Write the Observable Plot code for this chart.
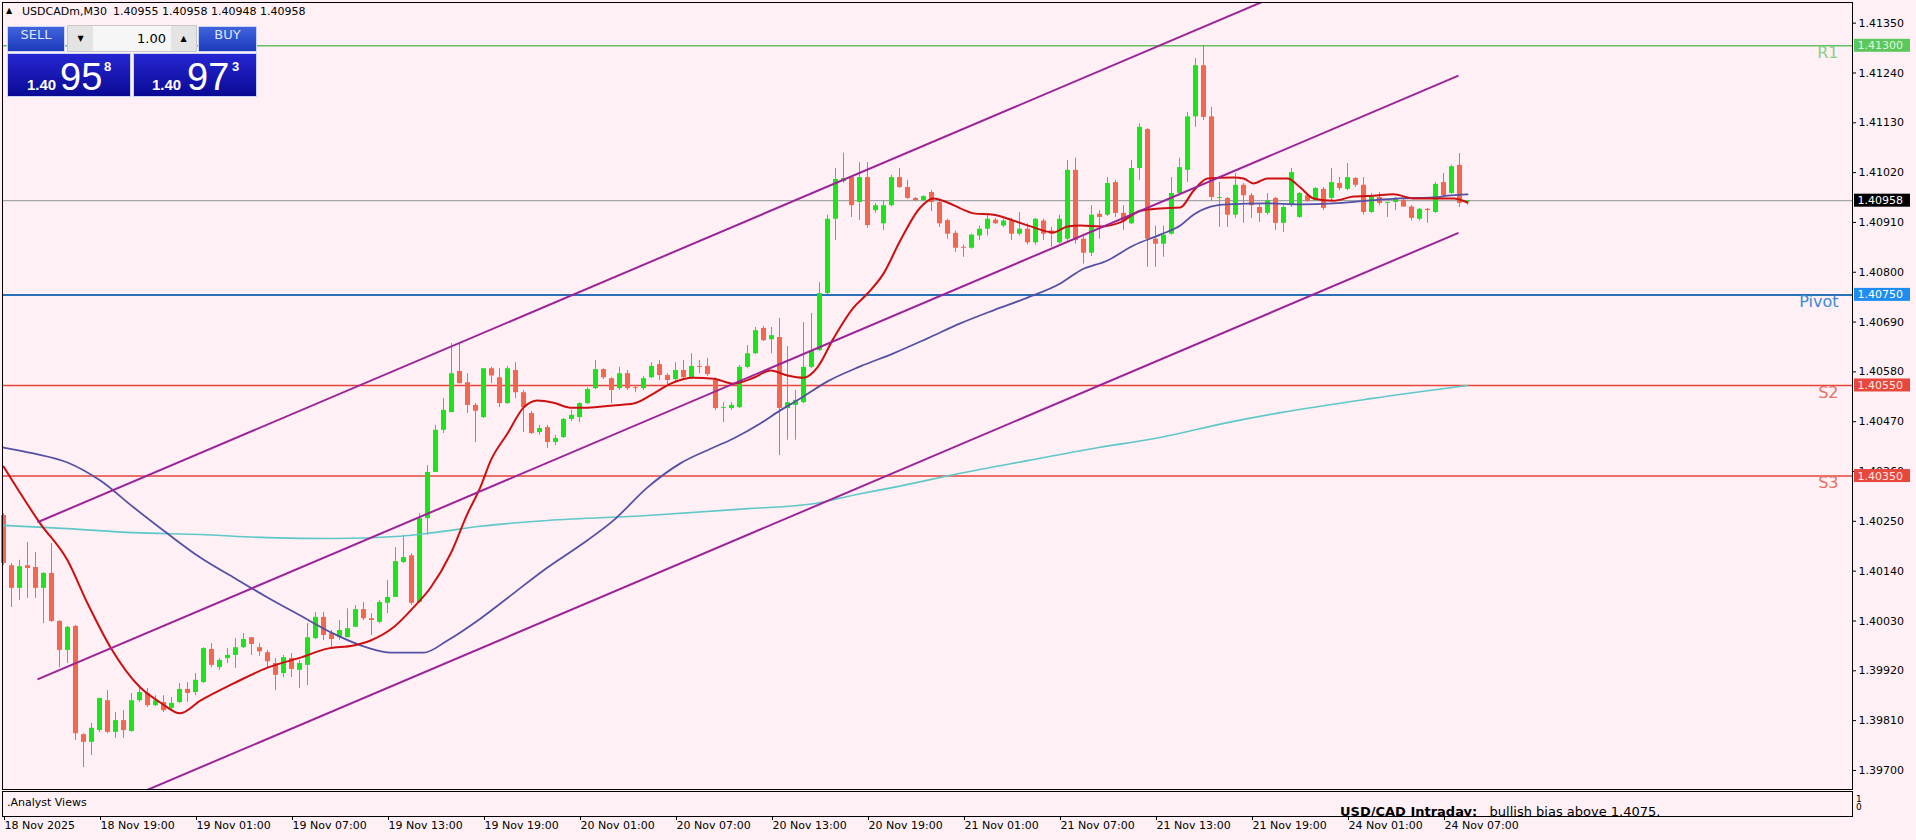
<!DOCTYPE html>
<html><head><meta charset="utf-8">
<script src="https://cdn.jsdelivr.net/npm/d3@7"></script>
<script src="https://cdn.jsdelivr.net/npm/@observablehq/plot@0.6"></script>
<style>
html,body{margin:0;padding:0;background:#fff0f5;}
body{width:1916px;height:840px;overflow:hidden;position:relative;font-family:"DejaVu Sans",sans-serif;}
#chart{position:absolute;left:0;top:0;}
.abs{position:absolute;white-space:pre;}
.lbl{position:absolute;top:26px;height:26px;line-height:26px;text-align:center;color:#dfe6ff;font:13px "DejaVu Sans",sans-serif;background:linear-gradient(#3f63dc,#1c3bbd);border:1px solid #c9d3f5;box-sizing:border-box;}
.px{position:absolute;top:53px;height:44px;width:124px;background:linear-gradient(#2626d2,#0a0a94);border:1px solid #c9d3f5;box-sizing:border-box;color:#fff;font-family:"Liberation Sans",Arial,sans-serif;}
.px span{position:absolute;}
#sub{position:absolute;left:2px;top:791px;width:1849px;height:24px;border:1px solid #000;overflow:hidden;}
</style></head><body>
<div id="chart"></div>

<div class="abs" style="left:6px;top:6px;font:8px 'DejaVu Sans';">▲</div>
<div class="abs" style="left:22px;top:5px;font:11px 'DejaVu Sans';color:#000;">USDCADm,M30</div>
<div class="abs" style="left:113px;top:5px;font:11px 'DejaVu Sans';color:#000;">1.40955 1.40958 1.40948 1.40958</div>

<div class="lbl" style="left:7px;width:58px;">SELL</div>
<div class="abs" style="left:67px;top:25px;width:130px;height:27px;background:#f6f6f6;border:1px solid #c8c8c8;box-sizing:border-box;"></div>
<div class="abs" style="left:68px;top:26px;width:25px;height:25px;background:#e4e4e4;font:8px 'DejaVu Sans';line-height:25px;text-align:center;">▼</div>
<div class="abs" style="left:93px;top:26px;width:73px;height:25px;font:13px 'DejaVu Sans';line-height:25px;text-align:right;color:#000;">1.00</div>
<div class="abs" style="left:171px;top:26px;width:25px;height:25px;background:#e4e4e4;font:8px 'DejaVu Sans';line-height:25px;text-align:center;">▲</div>
<div class="lbl" style="left:198px;width:59px;">BUY</div>

<div class="px" style="left:7px;"><span style="left:19px;top:23px;font:bold 15px/15px 'Liberation Sans';">1.40</span><span style="left:52px;top:4px;font:38px/38px 'Liberation Sans';">95</span><span style="left:96px;top:6px;font:bold 13px/13px 'Liberation Sans';">8</span></div>
<div class="px" style="left:133px;"><span style="left:18px;top:23px;font:bold 15px/15px 'Liberation Sans';">1.40</span><span style="left:53px;top:4px;font:38px/38px 'Liberation Sans';">97</span><span style="left:98px;top:6px;font:bold 13px/13px 'Liberation Sans';">3</span></div>

<div id="sub">
  <div class="abs" style="left:4px;top:4px;font:11px 'DejaVu Sans';color:#000;">.Analyst Views</div>
  <div class="abs" style="left:1337px;top:13px;font:13px/13px 'DejaVu Sans';color:#000;"><b>USD/CAD Intraday:</b>   bullish bias above 1.4075.</div>
</div>
<div class="abs" style="left:1856px;top:795px;font:9px/8px 'DejaVu Sans';color:#000;">1<br>0</div>

<script>
// ---- data (USDCADm, M30) ----
const open = [1.40263,1.40152,1.40102,1.40152,1.40148,1.40102,1.40135,1.40029,1.39965,1.40018,1.39779,1.39762,1.39788,1.39854,1.39784,1.39810,1.39786,1.39854,1.39870,1.39843,1.39850,1.39837,1.39850,1.39879,1.39872,1.39894,1.39967,1.39927,1.39947,1.39954,1.39971,1.39993,1.39971,1.39960,1.39936,1.39914,1.39947,1.39921,1.39932,1.39991,1.40038,1.40002,1.39993,1.39993,1.40016,1.40055,1.40035,1.40027,1.40069,1.40082,1.40159,1.40174,1.40071,1.40256,1.40358,1.40451,1.40490,1.40581,1.40556,1.40506,1.40479,1.40587,1.40567,1.40510,1.40583,1.40534,1.40488,1.40446,1.40457,1.40424,1.40435,1.40475,1.40479,1.40510,1.40543,1.40585,1.40565,1.40543,1.40576,1.40545,1.40543,1.40567,1.40596,1.40572,1.40563,1.40583,1.40567,1.40592,1.40592,1.40561,1.40499,1.40499,1.40501,1.40590,1.40620,1.40676,1.40651,1.40656,1.40499,1.40506,1.40512,1.40590,1.40627,1.40753,1.40917,1.41000,1.41009,1.40954,1.41009,1.40936,1.40907,1.40947,1.41009,1.40987,1.40963,1.40958,1.40976,1.40954,1.40914,1.40886,1.40855,1.40853,1.40880,1.40895,1.40915,1.40902,1.40913,1.40884,1.40895,1.40865,1.40913,1.40891,1.40865,1.40873,1.41025,1.40873,1.40842,1.40928,1.40926,1.40998,1.40930,1.40907,1.41029,1.41115,1.40873,1.40862,1.40884,1.40974,1.41025,1.41143,1.41256,1.41143,1.40963,1.40963,1.40926,1.40992,1.40969,1.40943,1.40930,1.40963,1.40908,1.40947,1.40921,1.40969,1.40958,1.40983,1.40963,1.40996,1.40983,1.41007,1.40992,1.40932,1.40965,1.40952,1.40954,1.40958,1.40944,1.40917,1.40939,1.40932,1.40998,1.40974,1.41036,1.40955];
const high = [1.40267,1.40157,1.40164,1.40203,1.40181,1.40137,1.40201,1.40031,1.40018,1.40020,1.39781,1.39804,1.39859,1.39876,1.39828,1.39832,1.39870,1.39885,1.39881,1.39865,1.39865,1.39861,1.39892,1.39894,1.39914,1.39971,1.39980,1.39947,1.39969,1.39991,1.40002,1.39993,1.39980,1.39965,1.39947,1.39954,1.39958,1.39943,1.40024,1.40049,1.40049,1.40009,1.40031,1.40057,1.40064,1.40071,1.40046,1.40075,1.40119,1.40192,1.40219,1.40179,1.40267,1.40373,1.40462,1.40521,1.40643,1.40643,1.40576,1.40510,1.40587,1.40590,1.40587,1.40592,1.40600,1.40539,1.40493,1.40462,1.40462,1.40440,1.40477,1.40495,1.40512,1.40545,1.40605,1.40587,1.40567,1.40590,1.40583,1.40550,1.40570,1.40600,1.40605,1.40576,1.40600,1.40605,1.40620,1.40605,1.40610,1.40567,1.40512,1.40512,1.40594,1.40638,1.40678,1.40680,1.40678,1.40698,1.40636,1.40539,1.40689,1.40709,1.40777,1.40926,1.41029,1.41063,1.41011,1.41042,1.41042,1.40952,1.40958,1.41014,1.41029,1.41003,1.40965,1.40969,1.40981,1.40958,1.40917,1.40891,1.40860,1.40884,1.40902,1.40926,1.40919,1.40917,1.40919,1.40932,1.40907,1.40919,1.40917,1.40899,1.40926,1.41047,1.41052,1.40880,1.40947,1.40936,1.41009,1.41003,1.40947,1.41047,1.41128,1.41117,1.40902,1.40902,1.41009,1.41052,1.41153,1.41272,1.41301,1.41164,1.40998,1.40965,1.41018,1.40996,1.40974,1.40952,1.40974,1.40965,1.40947,1.41029,1.40976,1.40974,1.40987,1.40987,1.41029,1.41009,1.41040,1.41009,1.41009,1.40974,1.40976,1.40954,1.40965,1.40963,1.40947,1.40941,1.40941,1.40998,1.41018,1.41036,1.41062,1.40958];
const low = [1.40152,1.40060,1.40075,1.40080,1.40080,1.40024,1.40027,1.39927,1.39936,1.39766,1.39706,1.39733,1.39784,1.39781,1.39771,1.39771,1.39784,1.39850,1.39839,1.39841,1.39828,1.39834,1.39848,1.39850,1.39865,1.39892,1.39927,1.39921,1.39936,1.39925,1.39969,1.39954,1.39952,1.39927,1.39876,1.39905,1.39905,1.39881,1.39887,1.39989,1.39987,1.39971,1.39987,1.39993,1.40016,1.40031,1.39998,1.40024,1.40046,1.40082,1.40157,1.40064,1.40069,1.40219,1.40358,1.40444,1.40490,1.40554,1.40488,1.40424,1.40477,1.40554,1.40501,1.40508,1.40521,1.40446,1.40442,1.40440,1.40411,1.40417,1.40433,1.40470,1.40468,1.40508,1.40541,1.40563,1.40510,1.40539,1.40539,1.40534,1.40539,1.40565,1.40561,1.40550,1.40559,1.40563,1.40565,1.40576,1.40570,1.40495,1.40468,1.40495,1.40499,1.40587,1.40618,1.40647,1.40620,1.40395,1.40429,1.40429,1.40510,1.40587,1.40625,1.40751,1.40870,1.40996,1.40921,1.40914,1.40897,1.40930,1.40892,1.40944,1.40985,1.40961,1.40956,1.40956,1.40934,1.40899,1.40873,1.40844,1.40833,1.40851,1.40870,1.40880,1.40905,1.40899,1.40870,1.40880,1.40860,1.40860,1.40870,1.40855,1.40862,1.40865,1.40862,1.40818,1.40835,1.40873,1.40923,1.40921,1.40892,1.40905,1.41003,1.40811,1.40811,1.40833,1.40882,1.40969,1.40998,1.41120,1.41135,1.40958,1.40899,1.40899,1.40919,1.40908,1.40919,1.40910,1.40926,1.40892,1.40888,1.40943,1.40919,1.40954,1.40956,1.40936,1.40958,1.40980,1.40980,1.40987,1.40926,1.40930,1.40947,1.40921,1.40936,1.40943,1.40913,1.40913,1.40908,1.40930,1.40965,1.40972,1.40943,1.40948];
const close = [1.40157,1.40102,1.40150,1.40146,1.40102,1.40135,1.40029,1.39965,1.40016,1.39781,1.39762,1.39793,1.39859,1.39784,1.39810,1.39788,1.39854,1.39872,1.39843,1.39854,1.39832,1.39848,1.39879,1.39870,1.39899,1.39969,1.39932,1.39943,1.39954,1.39971,1.39989,1.39978,1.39962,1.39940,1.39910,1.39949,1.39923,1.39936,1.39993,1.40038,1.39998,1.39989,1.40009,1.40013,1.40055,1.40035,1.40031,1.40071,1.40082,1.40161,1.40170,1.40069,1.40256,1.40358,1.40451,1.40495,1.40576,1.40554,1.40506,1.40493,1.40587,1.40571,1.40510,1.40587,1.40534,1.40501,1.40444,1.40455,1.40424,1.40433,1.40475,1.40484,1.40510,1.40541,1.40585,1.40567,1.40539,1.40576,1.40543,1.40543,1.40565,1.40592,1.40572,1.40561,1.40583,1.40567,1.40592,1.40590,1.40574,1.40499,1.40501,1.40506,1.40590,1.40620,1.40671,1.40649,1.40660,1.40499,1.40512,1.40517,1.40590,1.40627,1.40753,1.40917,1.41005,1.41007,1.40947,1.41009,1.40903,1.40947,1.40947,1.41009,1.40987,1.40963,1.40958,1.40967,1.40954,1.40907,1.40884,1.40853,1.40853,1.40882,1.40895,1.40917,1.40907,1.40913,1.40884,1.40895,1.40865,1.40917,1.40884,1.40884,1.40917,1.41025,1.40870,1.40842,1.40926,1.40921,1.40996,1.40930,1.40913,1.41029,1.41120,1.40873,1.40862,1.40882,1.40974,1.41031,1.41143,1.41256,1.41142,1.40965,1.40965,1.40926,1.40992,1.40969,1.40947,1.40930,1.40958,1.40908,1.40943,1.41020,1.40974,1.40956,1.40985,1.40941,1.40998,1.40985,1.41009,1.40992,1.40932,1.40965,1.40952,1.40954,1.40963,1.40944,1.40919,1.40939,1.40936,1.40994,1.40969,1.41033,1.40952,1.40958];

// moving averages: [bar index, price]
const maFast = [[0,1.40371],[4.6,1.40245],[8,1.40164],[10.5,1.40069],[13.4,1.39971],[17.1,1.39883],[19.6,1.39850],[22.1,1.39826],[24.6,1.39854],[28.75,1.39892],[33,1.39927],[37.1,1.39949],[40.5,1.39969],[43.75,1.39976],[45.9,1.39987],[48.75,1.40016],[51.25,1.40060],[53.4,1.40104],[55.9,1.40179],[58,1.40267],[59.6,1.40325],[60.9,1.40384],[63,1.40444],[65,1.40501],[66.75,1.40517],[68.75,1.40512],[70.9,1.40501],[73,1.40501],[76.25,1.40506],[78.75,1.40510],[81.25,1.40532],[83.4,1.40554],[86.25,1.40567],[88.75,1.40565],[91.25,1.40554],[93.75,1.40567],[95.9,1.40583],[98,1.40572],[100,1.40567],[101.75,1.40590],[103.75,1.40654],[106.25,1.40722],[108,1.40753],[110,1.40797],[112.1,1.40870],[114.6,1.40943],[116.25,1.40963],[118,1.40954],[119.6,1.40941],[121.25,1.40930],[123.75,1.40927],[126.25,1.40914],[128.75,1.40899],[131.25,1.40888],[133,1.40901],[134.6,1.40903],[137.1,1.40901],[139.6,1.40910],[142.1,1.40936],[144.6,1.40941],[147.1,1.40943],[148.75,1.40980],[150.5,1.41007],[153.75,1.41009],[155,1.41007],[156.25,1.40996],[158,1.41007],[160.5,1.41007],[162.1,1.40987],[163.75,1.40963],[166.25,1.40958],[168.75,1.40967],[171.25,1.40969],[173.75,1.40972],[176.25,1.40963],[178.75,1.40963],[181.25,1.40963],[183,1.40954]];
const maMid = [[0,1.40413],[3.75,1.40400],[8,1.40380],[12.1,1.40340],[16.25,1.40281],[20.5,1.40223],[24.6,1.40170],[28.75,1.40126],[33,1.40082],[37.1,1.40042],[41.25,1.40002],[45.5,1.39971],[48.4,1.39960],[52.5,1.39960],[55.5,1.39987],[59.6,1.40035],[63.75,1.40091],[68,1.40148],[72.1,1.40197],[76.25,1.40252],[80.5,1.40325],[84.6,1.40378],[88.75,1.40413],[91.25,1.40433],[94.6,1.40466],[97.1,1.40495],[99.6,1.40521],[103,1.40559],[107.1,1.40592],[111.25,1.40621],[115.5,1.40654],[119.6,1.40687],[123.75,1.40716],[128,1.40744],[132.1,1.40775],[134.6,1.40804],[138,1.40826],[141.25,1.40859],[144.6,1.40883],[147.1,1.40903],[148.75,1.40927],[150.9,1.40945],[153,1.40950],[158,1.40952],[162.1,1.40950],[166.25,1.40952],[170.5,1.40958],[174.6,1.40963],[178.75,1.40965],[180.5,1.40969],[183,1.40972]];
const maSlow = [[0,1.40241],[8,1.40234],[16.25,1.40225],[24.6,1.40221],[33,1.40214],[41.25,1.40212],[49.6,1.40217],[53.75,1.40225],[59.6,1.40239],[68,1.40252],[80.5,1.40263],[93,1.40278],[101.25,1.40289],[107.1,1.40311],[111.25,1.40325],[119.6,1.40356],[128,1.40384],[136.25,1.40411],[144.6,1.40435],[153,1.40468],[159.6,1.40490],[170.9,1.40521],[183,1.40550]];

// equidistant channel (two anchor bars)
const channelBars = [4.25, 181.875];
const channelUpper = [1.40248, 1.41581];
const channelMiddle = [1.39901, 1.41234];
const channelLower = [1.39554, 1.40887];

// pivot levels
const levelNames = ["R1", "Pivot", "S2", "S3"];
const levelPrices = [1.41300, 1.40750, 1.40550, 1.40350];
const lastPrice = 1.40958;

// axes
const priceTicks = [1.41350,1.41240,1.41130,1.41020,1.40910,1.40800,1.40690,1.40580,1.40470,1.40360,1.40250,1.40140,1.40030,1.39920,1.39810,1.39700];
const timeTickBars = [0,12,24,36,48,60,72,84,96,108,120,132,144,156,168,180];
const timeTickLabels = ["18 Nov 2025","18 Nov 19:00","19 Nov 01:00","19 Nov 07:00","19 Nov 13:00","19 Nov 19:00","20 Nov 01:00","20 Nov 07:00","20 Nov 13:00","20 Nov 19:00","21 Nov 01:00","21 Nov 07:00","21 Nov 13:00","21 Nov 19:00","24 Nov 01:00","24 Nov 07:00"];

// ---- styling ----
const BULL = "#1fe21f", BEAR = "#f2674f";
const levelLine = ["#63c063", "#2a72b8", "#e5453a", "#e5453a"];
const levelText = ["#86d286", "#3b8ad2", "#e8715f", "#e8715f"];
const levelBox = ["#5cc85c", "#1e8cf0", "#e8473c", "#e8473c"];
const levelBoxText = ["#dff7df", "#ffffff", "#ffe6e2", "#ffe6e2"];

const xDomain = [-0.125, 231.125];
const yDomain = [1.396579, 1.413956];
const pxPerBar = 8;
const pricePerPx = (yDomain[1] - yDomain[0]) / 787;

const bars = open.map((o, i) => ({i, o, h: high[i], l: low[i], c: close[i], col: close[i] >= o ? BULL : BEAR}));
const levels = levelNames.map((name, k) => ({name, price: levelPrices[k], line: levelLine[k], text: levelText[k], box: levelBox[k], boxText: levelBoxText[k]}));
const tags = levels.map(d => ({price: d.price, box: d.box, txt: d.boxText})).concat([{price: lastPrice, box: "#000000", txt: "#ffffff"}]);
const channels = [channelUpper, channelMiddle, channelLower].map(p => ({x1: channelBars[0], y1: p[0], x2: channelBars[1], y2: p[1]}));
const tickLabel = new Map(timeTickBars.map((b, k) => [b, timeTickLabels[k]]));

const boxX1 = xDomain[1] + 2 / pxPerBar, boxX2 = xDomain[1] + 58 / pxPerBar;
const boxHalf = 6.5 * pricePerPx;
const labelX = xDomain[1] - 14 / pxPerBar;

const plot = Plot.plot({
  width: 1916, height: 840,
  marginTop: 2, marginLeft: 2, marginRight: 64, marginBottom: 51,
  x: {domain: xDomain, axis: null},
  y: {domain: yDomain, axis: null},
  color: {type: "identity"},
  style: {background: "#fff0f5", fontFamily: "DejaVu Sans, sans-serif", fontSize: "11px", color: "#000", overflow: "visible"},
  marks: [
    Plot.ruleY([lastPrice], {stroke: "#8a9696", strokeWidth: 1}),
    Plot.ruleY(levels, {y: "price", stroke: "line", strokeWidth: d => d.name === "Pivot" ? 2 : 1.6}),
    Plot.ruleX(bars, {x: "i", y1: "l", y2: "h", stroke: "col", strokeWidth: 1}),
    Plot.ruleX(bars, {x: "i", y1: "o", y2: "c", stroke: "col", strokeWidth: 5}),
    Plot.line(maSlow, {x: d => d[0], y: d => d[1], stroke: "#5ec8c8", strokeWidth: 1.6, curve: "monotone-x"}),
    Plot.line(maMid, {x: d => d[0], y: d => d[1], stroke: "#5450a6", strokeWidth: 1.8, curve: "monotone-x"}),
    Plot.line(maFast, {x: d => d[0], y: d => d[1], stroke: "#cc1010", strokeWidth: 2, curve: "monotone-x"}),
    Plot.link(channels, {x1: "x1", y1: "y1", x2: "x2", y2: "y2", stroke: "#9c2398", strokeWidth: 2, clip: true}),
    Plot.text(levels, {x: labelX, y: "price", text: "name", fill: "text", textAnchor: "end", lineAnchor: "top", dy: 1, fontSize: 16}),
    Plot.frame({stroke: "#000", strokeWidth: 1}),
    Plot.axisY({anchor: "right", ticks: priceTicks, tickFormat: d3.format(".5f"), tickSize: 3, tickPadding: 3, fontSize: 11, color: "#000"}),
    Plot.rect(tags, {x1: boxX1, x2: boxX2, y1: d => d.price - boxHalf, y2: d => d.price + boxHalf, fill: "box"}),
    Plot.text(tags, {x: boxX1 + 3 / pxPerBar, y: "price", text: d => d3.format(".5f")(d.price), fill: "txt", textAnchor: "start", fontSize: 11}),
    Plot.axisX({anchor: "bottom", ticks: timeTickBars, tickFormat: d => tickLabel.get(d), tickSize: 4, tickPadding: 1, dy: 27, textAnchor: "start", dx: 1, fontSize: 11, color: "#000"})
  ]
});
document.getElementById("chart").append(plot);
</script>
</body></html>
